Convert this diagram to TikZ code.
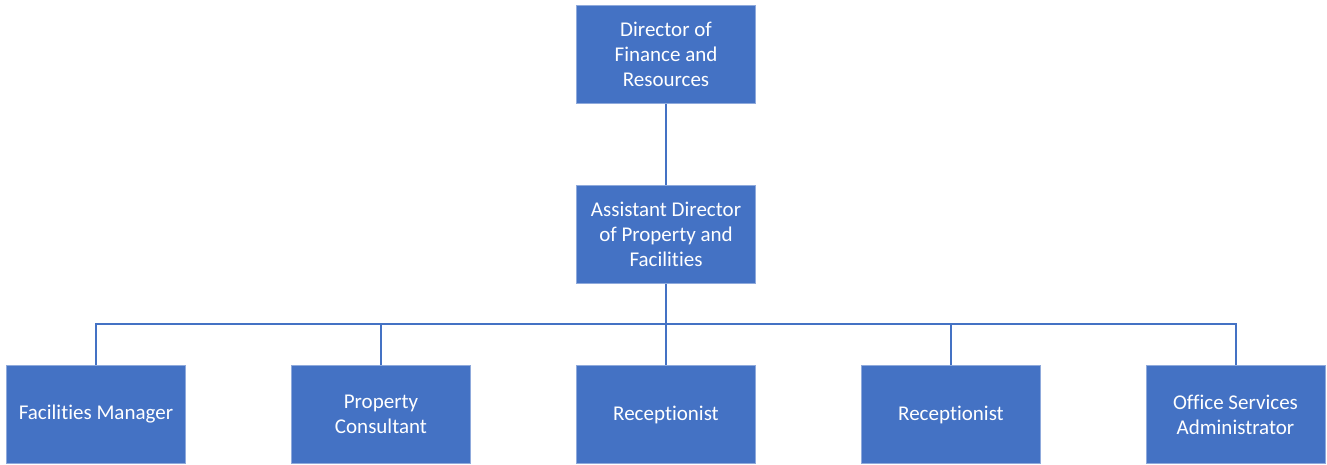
\documentclass[tikz,border=0pt]{standalone}
\usepackage{fontspec}
\setmainfont{Carlito}[Ligatures=NoCommon]
\definecolor{boxblue}{HTML}{4472C4}
\definecolor{edgeblue}{HTML}{8FAADC}
\begin{document}
\begin{tikzpicture}[x=1pt,y=-1pt,
  role/.style={fill=boxblue,draw=edgeblue,line width=0.8pt,minimum width=179pt,minimum height=98pt,
    inner sep=0pt,text=white,align=center,font=\fontsize{21pt}{25pt}\selectfont},
  link/.style={draw=boxblue,line width=2pt}]
\useasboundingbox (0,0) rectangle (1327,464);
\node[role] (dir) at (666,54.5) {Director of\\Finance and\\Resources};
\node[role] (adir) at (666,234.5) {Assistant Director\\of Property and\\Facilities};
\node[role] (fm) at (96,414.5) {Facilities Manager};
\node[role] (pc) at (381,414.5) {Property\\Consultant};
\node[role] (r1) at (666,414.5) {Receptionist};
\node[role] (r2) at (951,414.5) {Receptionist};
\node[role] (osa) at (1235.5,414.5) {Office Services\\Administrator};
\coordinate (bus) at (666,324);
\draw[link] (dir.south) -- (adir.north);
\draw[link] (adir.south) -- (r1.north);
\foreach \n in {fm,pc,r2,osa}
  \draw[link] (\n.north) -- (\n.north |- bus) -- (bus);
\end{tikzpicture}
\end{document}
